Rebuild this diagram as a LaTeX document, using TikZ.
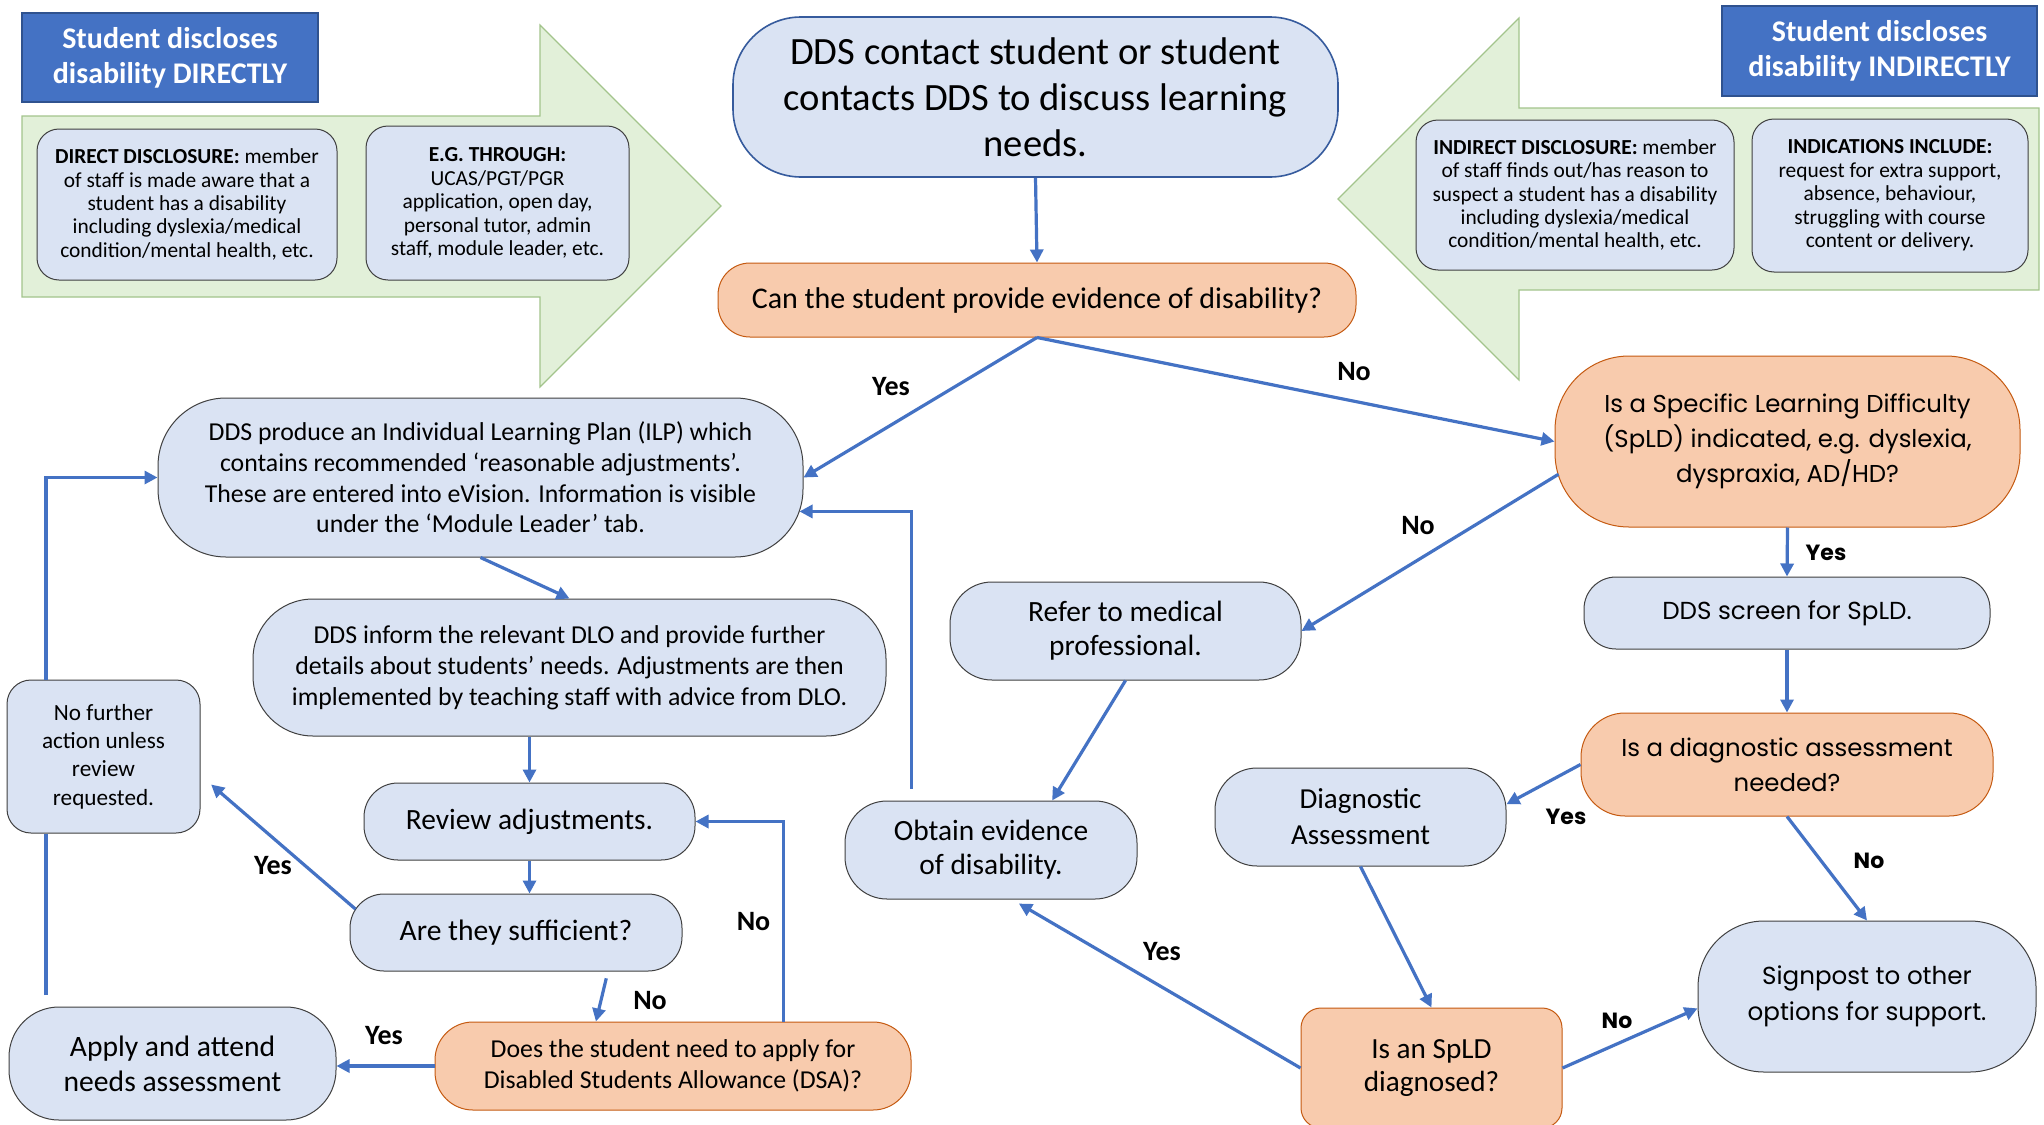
\documentclass[tikz,border=0pt]{standalone}
\usepackage{fontspec}
\setmainfont{Carlito}
\newfontfamily\gothic{Poppins}
\usetikzlibrary{arrows.meta}
\definecolor{nodeblue}{HTML}{DAE3F3}
\definecolor{nodeorange}{HTML}{F8CBAD}
\definecolor{orangeedge}{HTML}{C55A11}
\definecolor{linkblue}{HTML}{4472C4}
\definecolor{titleblue}{HTML}{4472C4}
\definecolor{titleedge}{HTML}{2F528F}
\definecolor{arrowgreen}{HTML}{E2F0D9}
\definecolor{arrowedge}{HTML}{A3C48C}
\tikzset{
  flowbox/.style={draw=black!75, line width=0.5pt, fill=nodeblue, align=center, inner sep=2pt},
  askbox/.style={flowbox, draw=orangeedge, fill=nodeorange},
  titlebox/.style={draw=titleedge, line width=0.8pt, fill=titleblue, text=white, align=center,
    font=\bfseries\fontsize{15}{17.5}\selectfont},
  notebox/.style={flowbox, rounded corners=11pt, font=\fontsize{10.7}{11.7}\selectfont},
  link/.style={draw=linkblue, line width=1.6pt, -{Triangle[length=6.5pt,width=6.5pt]}},
  plainlink/.style={draw=linkblue, line width=1.6pt},
  lbl/.style={font=\bfseries\fontsize{14}{16}\selectfont, inner sep=0pt},
  glbl/.style={font=\gothic\bfseries\fontsize{11}{13}\selectfont, inner sep=0pt}
}
\begin{document}
\begin{tikzpicture}[x=0.5pt,y=-0.5pt]
\useasboundingbox[fill=white] (0,0) rectangle (2044,1124);

\draw[fill=arrowgreen, draw=arrowedge, line width=0.6pt] (22,116) -- (540,116) -- (540,25) -- (721,206) -- (540,387) -- (540,297) -- (22,297) -- cycle;
\draw[fill=arrowgreen, draw=arrowedge, line width=0.6pt] (2039,108) -- (1519,108) -- (1519,18) -- (1338,199) -- (1519,380) -- (1519,290) -- (2039,290) -- cycle;

\node[titlebox, minimum width=148pt, minimum height=44.5pt] (titleL) at (170,57.5) {Student discloses\\disability DIRECTLY};
\node[titlebox, minimum width=157.5pt, minimum height=45pt] (titleR) at (1879.5,51) {Student discloses\\disability INDIRECTLY};

\node[notebox, minimum width=150pt, minimum height=75.5pt] (directnote) at (187,204.5) {\textbf{DIRECT DISCLOSURE:} member\\of staff is made aware that a\\student has a disability\\including dyslexia/medical\\condition/mental health, etc.};
\node[notebox, minimum width=131.5pt, minimum height=77pt] (routenote) at (497.5,203) {\textbf{E.G. THROUGH:}\\UCAS/PGT/PGR\\application, open day,\\personal tutor, admin\\staff, module leader, etc.};
\node[notebox, minimum width=159pt, minimum height=75pt] (indirectnote) at (1575,195) {\textbf{INDIRECT DISCLOSURE:} member\\of staff finds out/has reason to\\suspect a student has a disability\\including dyslexia/medical\\condition/mental health, etc.};
\node[notebox, minimum width=138pt, minimum height=76.5pt] (signsnote) at (1890,195.5) {\textbf{INDICATIONS INCLUDE:}\\request for extra support,\\absence, behaviour,\\struggling with course\\content or delivery.};

\node[flowbox, draw=linkblue!80!black, line width=0.8pt, minimum width=302.5pt, minimum height=80pt, rounded corners=34pt, font=\fontsize{19.3}{23}\selectfont] (contact) at (1035.5,97) {DDS contact student or student\\contacts DDS to discuss learning\\needs.};
\node[askbox, minimum width=319pt, minimum height=37pt, rounded corners=16pt, font=\fontsize{15}{17}\selectfont] (evidence) at (1037,300) {Can the student provide evidence of disability?};

\node[flowbox, minimum width=322.5pt, minimum height=79.5pt, rounded corners=34pt, font=\fontsize{12.9}{15.3}\selectfont] (ilp) at (480.5,477.5) {DDS produce an Individual Learning Plan (ILP) which\\contains recommended ‘reasonable adjustments’.\\These are entered into eVision. Information is visible\\under the ‘Module Leader’ tab.};
\node[flowbox, minimum width=316.5pt, minimum height=68.5pt, rounded corners=30pt, font=\fontsize{12.9}{15.5}\selectfont] (dlo) at (569.5,667.5) {DDS inform the relevant DLO and provide further\\details about students’ needs. Adjustments are then\\implemented by teaching staff with advice from DLO.};
\node[flowbox, minimum width=96.5pt, minimum height=76.5pt, rounded corners=12pt, font=\fontsize{11.6}{14.2}\selectfont] (nofurther) at (103.5,756.5) {No further\\action unless\\review\\requested.};
\node[flowbox, minimum width=165.5pt, minimum height=38.5pt, rounded corners=17pt, font=\fontsize{14.7}{17}\selectfont] (review) at (529.5,821.5) {Review adjustments.};
\node[flowbox, minimum width=166pt, minimum height=38.5pt, rounded corners=17pt, font=\fontsize{14.8}{17}\selectfont] (suff) at (516,932.5) {Are they sufficient?};
\node[askbox, minimum width=238pt, minimum height=44pt, rounded corners=19pt, font=\fontsize{12.9}{15.5}\selectfont] (dsa) at (673,1066) {Does the student need to apply for\\Disabled Students Allowance (DSA)?};
\node[flowbox, minimum width=163.5pt, minimum height=56.5pt, rounded corners=25pt, font=\fontsize{14.8}{17.5}\selectfont] (apply) at (172.5,1063.5) {Apply and attend\\needs assessment};

\node[flowbox, minimum width=175.5pt, minimum height=49pt, rounded corners=21pt, font=\fontsize{14.7}{17}\selectfont] (refer) at (1125.5,631) {Refer to medical\\professional.};
\node[flowbox, minimum width=146pt, minimum height=49pt, rounded corners=21pt, font=\fontsize{14.7}{17}\selectfont] (obtain) at (991,850) {Obtain evidence\\of disability.};
\node[flowbox, minimum width=145.5pt, minimum height=49pt, rounded corners=21pt, font=\fontsize{14.5}{18}\selectfont] (diag) at (1360.5,817) {Diagnostic\\Assessment};
\node[askbox, minimum width=130.5pt, minimum height=60pt, rounded corners=10pt, font=\fontsize{14.6}{16.5}\selectfont] (isspld) at (1431.5,1068) {Is an SpLD\\diagnosed?};

\node[askbox, minimum width=232.5pt, minimum height=85.5pt, rounded corners=37pt, font=\gothic\fontsize{12.2}{17.5}\selectfont] (spld) at (1787.5,441.5) {Is a Specific Learning Difficulty\\(SpLD) indicated, e.g. dyslexia,\\dyspraxia, AD/HD?};
\node[flowbox, minimum width=203pt, minimum height=36pt, rounded corners=16pt, font=\gothic\fontsize{12.3}{17.5}\selectfont] (screen) at (1787,613) {DDS screen for SpLD.};
\node[askbox, minimum width=206pt, minimum height=51.5pt, rounded corners=22pt, font=\gothic\fontsize{12.2}{17.5}\selectfont] (need) at (1787,764.5) {Is a diagnostic assessment\\needed?};
\node[flowbox, minimum width=169pt, minimum height=75.5pt, rounded corners=33pt, font=\gothic\fontsize{12.3}{17.8}\selectfont] (signpost) at (1867,996.5) {Signpost to other\\options for support.};

\draw[link] (contact.south) -- (evidence.north);
\draw[link] (evidence.south) -- (ilp.east);
\draw[link] (evidence.south) -- (spld.west);
\draw[link] ([xshift=2pt]spld.188.6) -- (refer.east);
\draw[link] (spld.south) -- (screen.north);
\draw[link] (screen.south) -- (need.north);
\draw[link] (need.west) -- (diag.5.4);
\draw[link] (need.south) -- (signpost.north);
\draw[link] (refer.south) -- (obtain.39.2);
\draw[link, shorten <=6pt] (obtain.148.5) |- ([xshift=-2pt]ilp.-6.8);
\draw[link] (ilp.south) -- (dlo.north);
\draw[link] (review.north |- dlo.south) -- (review.north);
\draw[link] (review.south) -- (review.south |- suff.north);
\draw[link, shorten >=7pt] ([xshift=3pt]suff.172) -- (nofurther.-11);
\draw[link, shorten <=3.5pt] (suff.-23.2) -- (dsa.150.3);
\draw[link] (dsa.22) |- (review.east);
\draw[link] (dsa.west) -- (dsa.west -| apply.east);
\coordinate (applyup) at (46,995);
\draw[plainlink] (applyup) -- (applyup |- nofurther.south);
\draw[link] (applyup |- nofurther.north) |- (ilp.west);
\draw[link] (diag.south) -- (isspld.north);
\draw[link, shorten >=4pt] (isspld.west) -- (obtain.-67.8);
\draw[link] (isspld.east) -- (signpost.184.2);

\node[lbl] (yesilp) at (891,387) {Yes};
\node[lbl] (nospld) at (1354,372) {No};
\node[lbl] (norefer) at (1418,526) {No};
\node[glbl] (yesscreen) at (1826,553) {Yes};
\node[glbl] (yesdiag) at (1566,817) {Yes};
\node[glbl] (nosignpost) at (1869,861) {No};
\node[glbl] (nodiagnosed) at (1617,1021) {No};
\node[lbl] (yesobtain) at (1162,952) {Yes};
\node[lbl] (yesnofurther) at (273,866) {Yes};
\node[lbl] (noreview) at (753.5,922) {No};
\node[lbl] (nodsa) at (650,1001) {No};
\node[lbl] (yesapply) at (384,1036) {Yes};
\end{tikzpicture}
\end{document}
